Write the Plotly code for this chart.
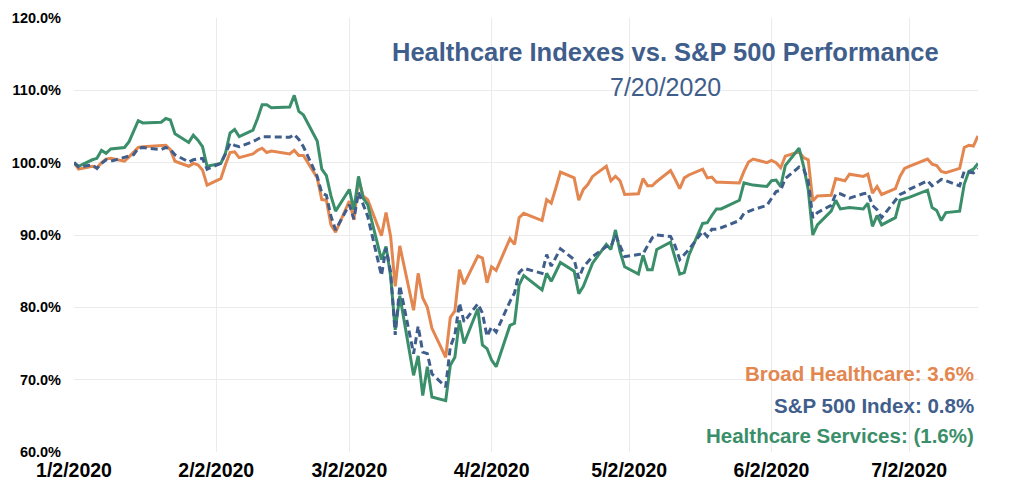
import pandas as pd
import plotly.graph_objects as go

# Trading-day calendar (NYSE holidays removed)
holidays = ["2020-01-20", "2020-02-17", "2020-04-10", "2020-05-25", "2020-07-03"]
dates = [d for d in pd.bdate_range("2020-01-02", "2020-07-17") if d.strftime("%Y-%m-%d") not in holidays]

broad_healthcare = [
    # Jan
    100.0, 99.1, 99.5, 99.3, 100.0, 100.5, 100.6, 100.2, 100.8, 101.5, 102.1, 102.2, 102.3, 102.4, 101.8, 100.2, 99.5, 99.9, 99.7, 99.0, 96.9,
    # Feb
    97.8, 99.7, 101.4, 101.5, 100.7, 101.2, 101.7, 102.0, 101.4, 101.6, 101.2, 101.7, 101.0, 101.0, 97.9, 94.9, 94.8, 91.4, 90.4,
    # Mar
    94.7, 92.1, 97.8, 95.4, 94.9, 89.9, 93.1, 89.8, 82.9, 88.5, 79.6, 84.7, 81.3, 80.0, 77.1, 73.1, 78.6, 79.5, 85.2, 83.2, 87.1, 86.8,
    # Apr
    83.4, 85.6, 85.1, 89.5, 88.7, 92.4, 93.0, 92.0, 94.9, 94.4, 96.5, 98.7, 97.9, 94.8, 96.3, 97.0, 98.1, 99.5, 97.5, 98.1, 97.5,
    # May
    95.6, 95.7, 97.8, 96.8, 96.8, 97.4, 98.9, 97.7, 96.4, 97.9, 98.3, 99.1, 97.9, 98.0, 97.3, 97.3, 97.2, 98.8, 100.1, 100.5,
    # Jun
    100.0, 100.3, 100.0, 99.3, 100.9, 101.5, 100.7, 100.4, 94.7, 95.4, 95.5, 97.8, 97.7, 97.5, 98.4, 98.1, 98.4, 95.8, 96.7, 95.6, 96.4, 98.1,
    # Jul
    99.2, 99.5, 100.5, 99.8, 99.6, 98.8, 98.6, 99.2, 102.1, 102.4, 102.3, 103.7,
]

sp500_index = [
    100.0, 99.4, 99.7, 99.2, 99.9, 100.4, 100.2, 100.7, 100.9, 101.1, 102.0, 102.1, 101.8, 102.1, 101.8, 101.1, 100.1, 100.4, 100.5, 100.6, 99.1,
    99.9, 101.2, 102.7, 102.4, 102.2, 102.9, 103.2, 103.6, 103.6, 103.6, 103.5, 103.9, 103.2, 102.2, 98.1, 95.8, 95.5, 92.6, 90.7,
    94.2, 92.2, 95.9, 94.2, 92.6, 84.4, 88.2, 84.9, 76.2, 83.0, 73.6, 77.4, 73.8, 73.6, 70.8, 69.0, 74.5, 76.2, 80.6, 78.0, 80.5, 79.2,
    76.0, 77.3, 76.6, 80.8, 82.0, 84.8, 85.4, 84.7, 87.3, 85.7, 86.8, 88.1, 86.6, 84.0, 85.6, 86.3, 87.0, 88.4, 88.4, 90.0, 88.4,
    87.0, 87.3, 87.4, 88.5, 89.6, 90.0, 89.8, 88.5, 86.6, 87.3, 88.0, 90.5, 89.8, 90.8, 90.8, 91.0, 92.0, 93.0, 93.3, 93.5,
    94.1, 95.0, 96.0, 96.2, 97.8, 99.4, 99.1, 97.5, 92.4, 93.1, 94.1, 95.7, 95.7, 95.4, 95.1, 95.7, 95.8, 94.1, 93.5, 92.4, 94.7, 95.6,
    95.9, 96.3, 97.5, 96.8, 97.2, 97.7, 97.5, 96.8, 98.8, 98.7, 98.6, 99.2,
]

healthcare_services = [
    100.0, 99.5, 100.4, 100.6, 101.7, 101.3, 101.9, 102.1, 102.9, 104.3, 105.8, 105.5, 105.6, 106.1, 105.9, 104.0, 102.8, 103.8, 103.1, 102.2, 99.5,
    99.9, 101.3, 104.1, 104.6, 103.6, 104.5, 106.1, 108.0, 108.0, 107.6, 107.7, 109.3, 107.1, 106.6, 103.0, 99.1, 98.2, 95.4, 93.3,
    96.3, 93.5, 98.1, 95.1, 94.2, 86.6, 88.4, 84.3, 76.9, 81.6, 70.6, 73.3, 67.8, 71.8, 67.6, 67.1, 72.0, 73.1, 78.2, 75.0, 79.8, 74.8,
    74.3, 72.7, 71.8, 77.5, 77.8, 83.1, 84.4, 82.4, 84.7, 83.6, 85.0, 86.2, 85.0, 81.9, 82.9, 84.5, 86.1, 88.7, 88.0, 90.7, 87.7,
    85.6, 84.6, 87.2, 85.2, 85.2, 88.0, 89.0, 86.8, 84.6, 84.8, 87.2, 91.6, 91.7, 92.7, 93.6, 93.6, 94.8, 97.2, 97.0, 96.9,
    96.7, 97.5, 97.6, 96.7, 99.6, 102.0, 99.5, 96.3, 90.0, 91.4, 93.3, 94.8, 93.6, 93.7, 93.8, 93.6, 94.4, 91.2, 92.7, 91.4, 92.4, 94.8,
    95.0, 95.2, 96.2, 93.8, 93.4, 92.0, 93.1, 93.3, 97.0, 98.8, 99.1, 99.9,
]

tick_dates = ["2020-01-02", "2020-02-02", "2020-03-02", "2020-04-02", "2020-05-02", "2020-06-02", "2020-07-02"]
tick_labels = ["1/2/2020", "2/2/2020", "3/2/2020", "4/2/2020", "5/2/2020", "6/2/2020", "7/2/2020"]
y_ticks = [60, 70, 80, 90, 100, 110, 120]

ORANGE = "#E3864F"
BLUE = "#3F5E8C"
GREEN = "#3A8F6A"
FONT = "Liberation Sans, Arial, sans-serif"

fig = go.Figure()
fig.add_trace(go.Scatter(x=dates, y=broad_healthcare, mode="lines", name="Broad Healthcare",
                         line=dict(color=ORANGE, width=3)))
fig.add_trace(go.Scatter(x=dates, y=healthcare_services, mode="lines", name="Healthcare Services",
                         line=dict(color=GREEN, width=3)))
fig.add_trace(go.Scatter(x=dates, y=sp500_index, mode="lines", name="S&P 500 Index",
                         line=dict(color=BLUE, width=3, dash="7px,4px")))

# the page body adds an 8px offset; margins compensate so the plot area sits where the reference has it
fig.update_layout(
    width=1024, height=490,
    margin=dict(l=66, r=54, t=10, b=46, autoexpand=False),
    plot_bgcolor="white", paper_bgcolor="white",
    showlegend=False,
    xaxis=dict(
        type="date", range=["2020-01-02", "2020-07-17"],
        tickmode="array", tickvals=tick_dates, ticktext=tick_labels,
        showgrid=True, gridcolor="#EBEBEB", gridwidth=1,
        zeroline=False, showline=False, ticks="", ticklen=0, automargin=False,
        ticklabelstandoff=4,
        tickfont=dict(family=FONT, size=19.5, color="black", weight="bold"),
    ),
    yaxis=dict(
        range=[60, 120], tickmode="array", tickvals=y_ticks,
        ticktext=[f"{v:.1f}%" for v in y_ticks],
        showgrid=True, gridcolor="#EBEBEB", gridwidth=1,
        zeroline=False, showline=False, ticks="", ticklen=0, automargin=False,
        ticklabelstandoff=12,
        tickfont=dict(family=FONT, size=14.5, color="black", weight="bold"),
    ),
    annotations=[
        dict(xref="paper", yref="paper", x=0.654, y=0.9216, text="<b>Healthcare Indexes vs. S&P 500 Performance</b>",
             showarrow=False, font=dict(family=FONT, size=25.5, color=BLUE), xanchor="center", yanchor="middle"),
        dict(xref="paper", yref="paper", x=0.654, y=0.841, text="7/20/2020",
             showarrow=False, font=dict(family=FONT, size=25, color=BLUE), xanchor="center", yanchor="middle"),
        dict(xref="paper", yref="paper", x=0.998, y=0.181, text="<b>Broad Healthcare: 3.6%</b>",
             showarrow=False, font=dict(family=FONT, size=20.5, color=ORANGE), xanchor="right", yanchor="middle"),
        dict(xref="paper", yref="paper", x=0.998, y=0.107, text="<b>S&P 500 Index: 0.8%</b>",
             showarrow=False, font=dict(family=FONT, size=20.5, color=BLUE), xanchor="right", yanchor="middle"),
        dict(xref="paper", yref="paper", x=0.998, y=0.038, text="<b>Healthcare Services: (1.6%)</b>",
             showarrow=False, font=dict(family=FONT, size=20.5, color=GREEN), xanchor="right", yanchor="middle"),
    ],
)

fig.write_html("out.html")
